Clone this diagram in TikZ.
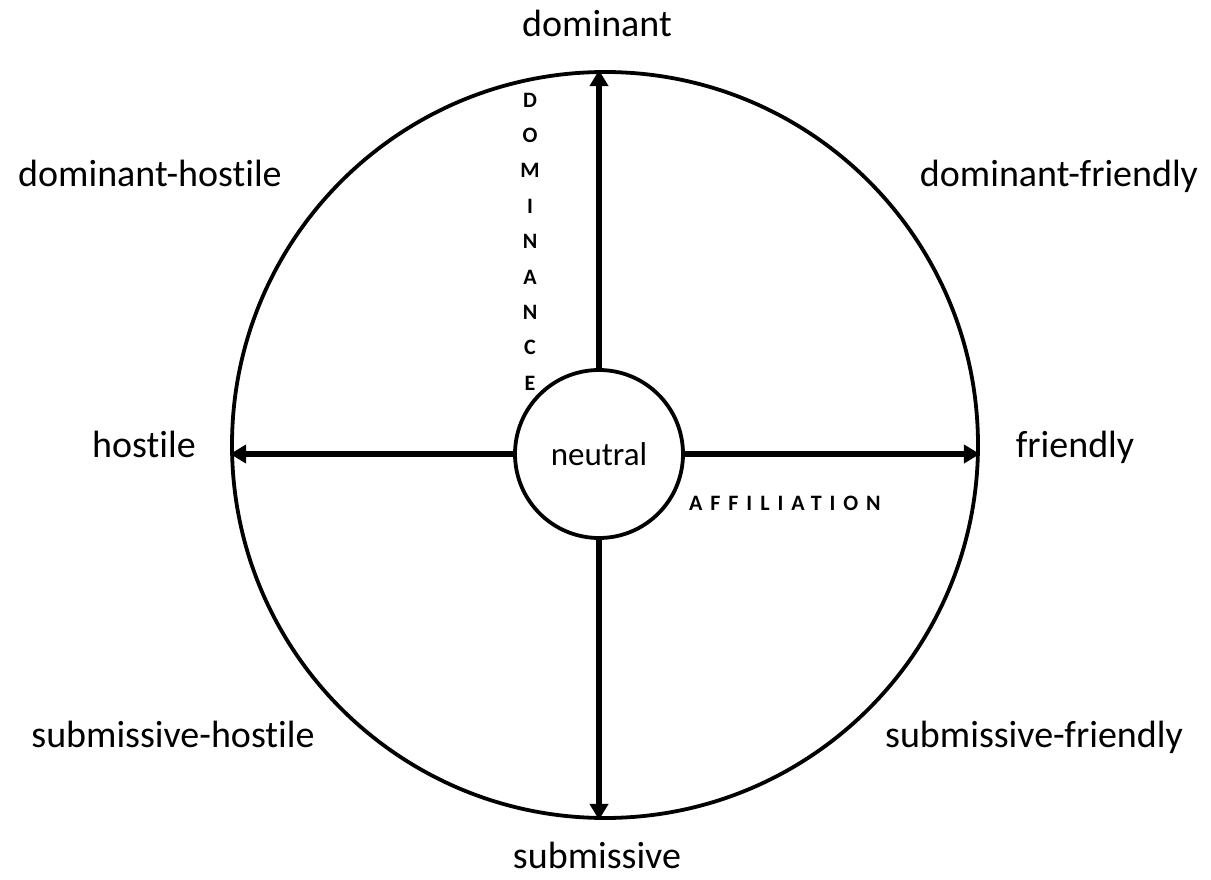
\documentclass[tikz,border=0pt]{standalone}
\usepackage{fontspec}
\setmainfont{Carlito}[Ligatures={NoCommon}]
\usetikzlibrary{arrows.meta}
\begin{document}
\begin{tikzpicture}[x=1pt,y=-1pt,
  lbl/.style={font=\fontsize{38}{44}\selectfont, inner sep=0pt, anchor=base},
  axisarrow/.style={line width=5.5pt, -{Triangle[length=16pt,width=18pt]}},
  ring/.style={circle, draw, line width=3.8pt, inner sep=0pt},
  capslbl/.style={font=\fontsize{22}{35.4}\selectfont\bfseries, inner sep=0pt}]
\useasboundingbox[fill=white] (0,0) rectangle (1211,880);
\node[ring, minimum size=746pt] (C) at (605,445) {};
\node[ring, minimum size=168pt, font=\fontsize{33}{38}\selectfont] (N) at (599,454) {neutral};
\draw[axisarrow] (N.north) -- (N.north |- C.north);
\draw[axisarrow] (N.south) -- (N.south |- C.south);
\draw[axisarrow] (N.west) -- (C.west |- N.west);
\draw[axisarrow] (N.east) -- (C.east |- N.east);
\node[lbl] (dom) at (597,37) {dominant};
\node[lbl] (sub) at (597,868) {submissive};
\node[lbl] (dh) at (150,187) {dominant-hostile};
\node[lbl] (df) at (1059,187) {dominant-friendly};
\node[lbl] (ho) at (144,457) {hostile};
\node[lbl] (fr) at (1075,457) {friendly};
\node[lbl] (sh) at (173,747) {submissive-hostile};
\node[lbl] (sf) at (1034,747) {submissive-friendly};
\node[capslbl, align=center] (dlab) at (530,241.5) {D\\O\\M\\I\\N\\A\\N\\C\\E};
\node[capslbl, anchor=west, font=\fontsize{22}{24}\selectfont\bfseries\addfontfeature{LetterSpace=36}] (alab) at (689,503) {AFFILIATION};
\end{tikzpicture}
\end{document}
